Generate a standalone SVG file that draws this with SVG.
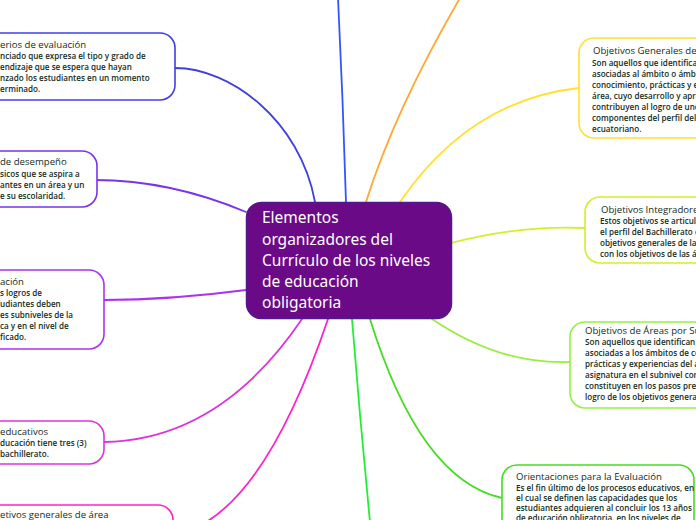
<svg xmlns="http://www.w3.org/2000/svg" width="696" height="520" viewBox="0 0 696 520">
<style>
.t{font-family:"Open Sans","Noto Sans","DejaVu Sans",sans-serif;font-size:9.6px;fill:#142d1d}
.b{font-family:"Open Sans","Noto Sans","DejaVu Sans",sans-serif;font-size:8.1px;font-weight:600;fill:#142d1d}
.c{font-family:"Noto Sans","Open Sans",sans-serif;font-size:15.5px;fill:#ffffff}
.n{fill:#ffffff;stroke-width:1.6}
.e{fill:none;stroke-width:1.8;stroke-linecap:round}
</style>
<rect width="696" height="520" fill="#ffffff"/>
<g id="connectors">
<path class="e" stroke="#3355ff" d="M346,202 Q343,100 338,-2"/>
<path class="e" stroke="#ffa833" d="M366,202 Q395,110 460,-2"/>
<path class="e" stroke="#ffe033" d="M400,202 Q470,100 579,88"/>
<path class="e" stroke="#d4ee2a" d="M451,243 Q520,225 585,228"/>
<path class="e" stroke="#99ee44" d="M432,319 Q500,365 570,362"/>
<path class="e" stroke="#44dd22" d="M370,319 Q420,480 502,498"/>
<path class="e" stroke="#22ee33" d="M352,319 Q360,420 370,522"/>
<path class="e" stroke="#4040e0" d="M315,202 C300,120 230,68 175,68"/>
<path class="e" stroke="#7733ee" d="M246,212 Q170,180 95,180"/>
<path class="e" stroke="#aa33ee" d="M246,290 Q170,300 104,300"/>
<path class="e" stroke="#dd33dd" d="M302,319 Q220,440 104,442"/>
<path class="e" stroke="#ff22cc" d="M328,319 Q260,520 173,535"/>
</g>
<g id="central">
<rect x="246.5" y="202.5" width="205" height="116" rx="15" fill="#6b0a86" stroke="#4e1a8e" stroke-width="1.5"/>
<text class="c" x="262" y="223">Elementos</text>
<text class="c" x="262" y="245">organizadores del</text>
<text class="c" x="262" y="266">Currículo de los niveles</text>
<text class="c" x="262" y="287">de educación</text>
<text class="c" x="262" y="308">obligatoria</text>
</g>
<g id="criterios">
<rect class="n" x="-100" y="33" width="275" height="67" rx="15" stroke="#4040e0"/>
<text class="t" x="0" y="48">erios de evaluación</text>
<text class="b" x="0" y="59">nciado que expresa el tipo y grado de</text>
<text class="b" x="0" y="70">endizaje que se espera que hayan</text>
<text class="b" x="0" y="81">nzado los estudiantes en un momento</text>
<text class="b" x="0" y="92">erminado.</text>
</g>
<g id="estandares">
<rect class="n" x="-100" y="151" width="197" height="56" rx="15" stroke="#7733ee"/>
<text class="t" x="0" y="165">de desempeño</text>
<text class="b" x="0" y="177">sicos que se aspira a</text>
<text class="b" x="0" y="188">antes en un área y un</text>
<text class="b" x="0" y="199">e su escolaridad.</text>
</g>
<g id="evaluacion">
<rect class="n" x="-100" y="270" width="204" height="79" rx="15" stroke="#aa33ee"/>
<text class="t" x="0" y="285">ación</text>
<text class="b" x="0" y="296">s logros de</text>
<text class="b" x="0" y="307">udiantes deben</text>
<text class="b" x="0" y="318">es subniveles de la</text>
<text class="b" x="0" y="329">ca y en el nivel de</text>
<text class="b" x="0" y="340">ficado.</text>
</g>
<g id="niveles">
<rect class="n" x="-100" y="421" width="204" height="43" rx="15" stroke="#dd33dd"/>
<text class="t" x="0" y="435">educativos</text>
<text class="b" x="0" y="446">ducación tiene tres (3)</text>
<text class="b" x="0" y="457">bachillerato.</text>
</g>
<g id="objetivos-generales-area">
<rect class="n" x="-100" y="505" width="273" height="60" rx="15" stroke="#ff22cc"/>
<text class="t" x="0" y="518">etivos generales de área</text>
</g>
<g id="objetivos-generales">
<rect class="n" x="579" y="38" width="200" height="100" rx="15" stroke="#ffe033"/>
<text class="t" x="593" y="54">Objetivos Generales de Á</text>
<text class="b" x="592" y="66">Son aquellos que identifican</text>
<text class="b" x="592" y="77">asociadas al ámbito o ámbit</text>
<text class="b" x="592" y="88">conocimiento, prácticas y ex</text>
<text class="b" x="592" y="99">área, cuyo desarrollo y apre</text>
<text class="b" x="592" y="110">contribuyen al logro de uno</text>
<text class="b" x="592" y="121">componentes del perfil del</text>
<text class="b" x="592" y="132">ecuatoriano.</text>
</g>
<g id="objetivos-integradores">
<rect class="n" x="585" y="197" width="200" height="66" rx="15" stroke="#d4ee2a"/>
<text class="t" x="601" y="213">Objetivos Integradores</text>
<text class="b" x="600" y="224">Estos objetivos se articula</text>
<text class="b" x="600" y="235">el perfil del Bachillerato e</text>
<text class="b" x="600" y="246">objetivos generales de las</text>
<text class="b" x="600" y="257">con los objetivos de las ár</text>
</g>
<g id="objetivos-areas-subnivel">
<rect class="n" x="570" y="322" width="220" height="86" rx="15" stroke="#99ee44"/>
<text class="t" x="585" y="334">Objetivos de Áreas por Sub</text>
<text class="b" x="585" y="345">Son aquellos que identifican l</text>
<text class="b" x="585" y="356">asociadas a los ámbitos de co</text>
<text class="b" x="585" y="367">prácticas y experiencias del ár</text>
<text class="b" x="585" y="378">asignatura en el subnivel corr</text>
<text class="b" x="585" y="389">constituyen en los pasos prev</text>
<text class="b" x="585" y="400">logro de los objetivos general</text>
</g>
<g id="orientaciones">
<rect class="n" x="502" y="465" width="192" height="80" rx="15" stroke="#44dd22"/>
<text class="t" x="516" y="480">Orientaciones para la Evaluación</text>
<text class="b" x="516" y="491">Es el fin último de los procesos educativos, en</text>
<text class="b" x="516" y="501">el cual se definen las capacidades que los</text>
<text class="b" x="516" y="511">estudiantes adquieren al concluir los 13 años</text>
<text class="b" x="516" y="521">de educación obligatoria, en los niveles de</text>
</g>
</svg>
